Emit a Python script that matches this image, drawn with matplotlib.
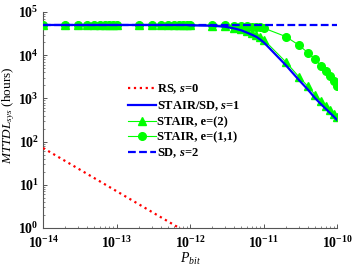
import matplotlib
matplotlib.use("Agg")
import matplotlib.pyplot as plt
from matplotlib.ticker import FuncFormatter, LogLocator, NullFormatter
import numpy as np

plt.rcParams['font.family'] = ['Liberation Serif', 'DejaVu Serif']
plt.rcParams['mathtext.fontset'] = 'custom'
plt.rcParams['mathtext.rm'] = 'Liberation Serif'
plt.rcParams['mathtext.it'] = 'Liberation Serif:italic'
plt.rcParams['mathtext.bf'] = 'Liberation Serif:bold'
plt.rcParams['mathtext.bfit'] = 'Liberation Serif:italic:bold'

# bit error probability grid (markers at 1..9 per decade)
p_bit = [1e-14, 2e-14, 3e-14, 4e-14, 5e-14, 6e-14, 7e-14, 8e-14, 9e-14,
         1e-13, 2e-13, 3e-13, 4e-13, 5e-13, 6e-13, 7e-13, 8e-13, 9e-13,
         1e-12, 2e-12, 3e-12, 4e-12, 5e-12, 6e-12, 7e-12, 8e-12, 9e-12,
         1e-11, 2e-11, 3e-11, 4e-11, 5e-11, 6e-11, 7e-11, 8e-11, 9e-11,
         1e-10]

flat = [5e4, 5e4, 5e4, 5e4, 5e4, 5e4, 5e4, 5e4, 5e4,
        5e4, 5e4, 5e4, 5e4, 5e4, 5e4, 5e4, 5e4, 5e4]

stair_sd_s1 = flat + [49000, 48000, 45500, 41500, 37500, 33000, 29500, 26500, 23000,
                      20000, 5900, 2700, 1600, 1020, 740, 575, 460, 380,
                      316]
stair_e2 = flat + [49500, 48500, 46500, 43500, 40000, 36000, 32500, 29500, 26000,
                   23000, 7000, 3200, 1900, 1220, 870, 670, 540, 440,
                   370]
stair_e11 = flat + [49800, 49500, 49000, 48500, 47800, 47000, 46000, 45000, 43800,
                    42500, 27000, 17200, 11400, 8000, 5700, 4300, 3300, 2500,
                    1960]
sd_s2 = flat + [5e4] * 19

rs_p = [1e-14, 1e-13, 1e-12]
rs_s0 = [71, 7.1, 0.71]

fig = plt.figure(figsize=(3.53, 2.66), dpi=100)
ax = fig.add_axes([0.122, 0.143, 0.833, 0.812])

h_rs, = ax.plot(rs_p, rs_s0, color='red', ls=':', lw=1.6, zorder=5)
h_e11, = ax.plot(p_bit, stair_e11, color='lime', lw=0.8, marker='o', ms=5.5, zorder=2)
h_e2, = ax.plot(p_bit, stair_e2, color='lime', lw=0.8, marker='^', ms=5.5, zorder=3)
h_s1, = ax.plot(p_bit, stair_sd_s1, color='blue', lw=1.6, zorder=4)
h_sd, = ax.plot(p_bit, sd_s2, color='blue', lw=1.6, dashes=(3.5, 1.5), zorder=5)

ax.set_xscale('log')
ax.set_yscale('log')
ax.set_xlim(1e-14, 1e-10)
ax.set_ylim(1, 1e5)

ax.spines['top'].set_visible(False)
ax.spines['right'].set_visible(False)
for s in ['left', 'bottom']:
    ax.spines[s].set_color('#555555')
    ax.spines[s].set_linewidth(0.8)

fmt = FuncFormatter(lambda v, pos: r'$\mathbf{10^{%d}}$' % int(round(np.log10(v))))
ax.xaxis.set_major_formatter(fmt)
ax.yaxis.set_major_formatter(fmt)
ax.xaxis.set_minor_locator(LogLocator(base=10, subs=np.arange(2, 10)))
ax.yaxis.set_minor_locator(LogLocator(base=10, subs=np.arange(2, 10)))
ax.xaxis.set_minor_formatter(NullFormatter())
ax.yaxis.set_minor_formatter(NullFormatter())
ax.tick_params(which='both', direction='in', labelsize=10, colors='#555555',
               labelcolor='black')
ax.tick_params(which='major', length=3, width=0.7)
ax.tick_params(which='minor', length=1.5, width=0.5)
ax.tick_params(axis='x', which='major', pad=5)
ax.tick_params(axis='y', which='major', pad=3)

ax.set_xlabel(r'$P_{bit}$', fontsize=10, labelpad=0)
ax.set_ylabel(r'$MTTDL_{sys}$ (hours)', fontsize=9.5)
ax.yaxis.set_label_coords(-0.088, 0.52)

leg = ax.legend([h_rs, h_s1, h_e2, h_e11, h_sd],
                [r'RS, $\mathbfit{s}$=0', r'STAIR/SD, $\mathbfit{s}$=1',
                 'STAIR, e=(2)', 'STAIR, e=(1,1)', r'SD, $\mathbfit{s}$=2'],
                loc='center left', bbox_to_anchor=(0.29, 0.495), frameon=False,
                prop={'family': 'Liberation Serif', 'weight': 'bold', 'size': 9},
                handlelength=2.2, handletextpad=0.1, labelspacing=0.25,
                numpoints=1, borderpad=0, borderaxespad=0)

fig.savefig('out.png', dpi=100)
